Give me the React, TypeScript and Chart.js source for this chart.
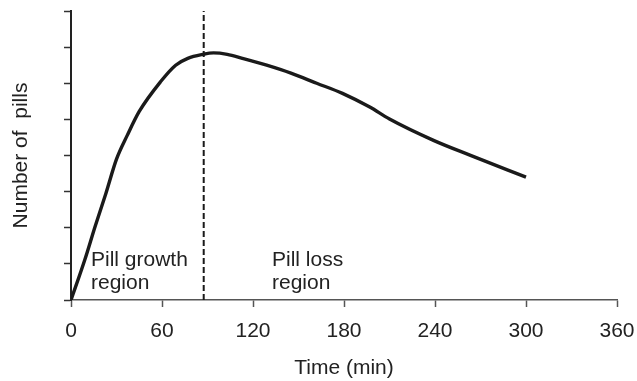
import React, { useEffect, useRef } from "react";
import { Chart, registerables } from "chart.js";

Chart.register(...registerables);

// Time (min) and number of pills (arbitrary units, y axis unlabeled 0..8)
const times = [0, 9, 16, 23, 30, 37, 45, 59, 69, 77, 87, 94, 103, 113, 129, 145, 162, 179, 197, 210, 239, 263, 300];
const pills = [0, 1.1, 2.05, 2.95, 3.9, 4.55, 5.22, 6.04, 6.5, 6.69, 6.8, 6.84, 6.8, 6.69, 6.5, 6.28, 6.0, 5.72, 5.34, 5.01, 4.42, 4.01, 3.4];

const xMin = 0;
const xMax = 360;
const xStep = 60;
const yMin = 0;
const yMax = 8;
const yStep = 1;

const dividerTime = 87.5;

const regionLabelLines = [
  ["Pill growth", "region"],
  ["Pill loss", "region"],
];
const regionLabelTime = [13.2, 132.5];
const regionLabelLineValues = [0.94, 0.3];

const xTitle = "Time (min)";
const yTitle = "Number of  pills";

const FONT = '"Liberation Sans", Arial, Helvetica, sans-serif';
const TEXT = "#222";

export default function App() {
  const canvasRef = useRef<HTMLCanvasElement | null>(null);

  useEffect(() => {
    const canvas = canvasRef.current;
    if (!canvas) return;

    const labelPlugin = {
      id: "regionLabels",
      afterDatasetsDraw(chart: any) {
        const { ctx, scales } = chart;
        ctx.save();
        ctx.font = `21px ${FONT}`;
        ctx.fillStyle = TEXT;
        ctx.textAlign = "left";
        ctx.textBaseline = "alphabetic";
        regionLabelLines.forEach((lines, i) => {
          const px = scales.x.getPixelForValue(regionLabelTime[i]);
          lines.forEach((line, j) => {
            const py = scales.y.getPixelForValue(regionLabelLineValues[j]);
            ctx.fillText(line, px, py);
          });
        });
        ctx.restore();
      },
    };

    const chart = new Chart(canvas, {
      type: "line",
      data: {
        datasets: [
          {
            data: times.map((t, i) => ({ x: t, y: pills[i] })),
            borderColor: "#1a1a1a",
            borderWidth: 3.4,
            pointRadius: 0,
            cubicInterpolationMode: "monotone",
            fill: false,
          },
          {
            data: [
              { x: dividerTime, y: yMin },
              { x: dividerTime, y: yMax },
            ],
            borderColor: "#1a1a1a",
            borderWidth: 2,
            borderDash: [6, 3],
            pointRadius: 0,
            fill: false,
          },
        ],
      },
      options: {
        animation: false,
        responsive: false,
        maintainAspectRatio: false,
        layout: { padding: { top: 11, right: 20, left: 0, bottom: 0 } },
        plugins: {
          legend: { display: false },
          tooltip: { enabled: false },
        },
        scales: {
          x: {
            type: "linear",
            min: xMin,
            max: xMax,
            afterFit: (s: any) => {
              s.height = 81;
              s.paddingRight = 0;
              s.paddingLeft = 0;
            },
            ticks: {
              stepSize: xStep,
              color: TEXT,
              font: { family: FONT, size: 21 },
              padding: 12,
              maxRotation: 0,
            },
            grid: {
              display: true,
              drawOnChartArea: false,
              drawTicks: true,
              tickLength: 7,
              tickColor: "#555",
              tickWidth: 1.5,
            },
            border: { display: true, color: "#555", width: 1.5 },
            title: {
              display: true,
              text: xTitle,
              color: TEXT,
              font: { family: FONT, size: 21 },
              padding: { top: 0, bottom: 0 },
            },
          },
          y: {
            type: "linear",
            min: yMin,
            max: yMax,
            afterFit: (s: any) => {
              s.width = 71;
            },
            ticks: {
              stepSize: yStep,
              callback: () => "",
              padding: 0,
            },
            grid: {
              display: true,
              drawOnChartArea: false,
              drawTicks: true,
              tickLength: 7,
              tickColor: "#333",
              tickWidth: 1.5,
            },
            border: { display: true, color: "#222", width: 2 },
            title: {
              display: true,
              text: yTitle,
              color: TEXT,
              font: { family: FONT, size: 21 },
              padding: { top: 9, bottom: 0 },
            },
          },
        },
      },
      plugins: [labelPlugin],
    } as any);

    return () => chart.destroy();
  }, []);

  return (
    <div style={{ position: "absolute", left: 0, top: 0, width: 637, height: 381, background: "#fff" }}>
      <canvas ref={canvasRef} width={637} height={381} style={{ width: 637, height: 381, display: "block" }} />
    </div>
  );
}
